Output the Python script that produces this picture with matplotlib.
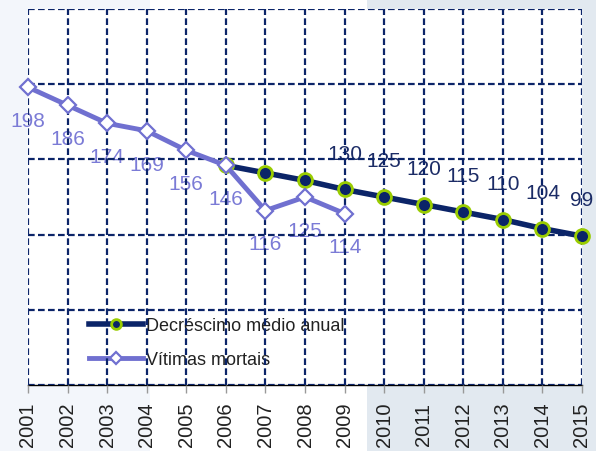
import matplotlib
matplotlib.use("Agg")
import matplotlib.pyplot as plt
from matplotlib.patches import Rectangle

years = [2001, 2002, 2003, 2004, 2005, 2006, 2007, 2008, 2009,
         2010, 2011, 2012, 2013, 2014, 2015]
vit_years = [2001, 2002, 2003, 2004, 2005, 2006, 2007, 2008, 2009]
vitimas = [198, 186, 174, 169, 156, 146, 116, 125, 114]
dec_years = [2006, 2007, 2008, 2009, 2010, 2011, 2012, 2013, 2014, 2015]
decrescimo = [146, 141, 136, 130, 125, 120, 115, 110, 104, 99]
dec_label_years = [2009, 2010, 2011, 2012, 2013, 2014, 2015]
y_ticks = [0, 50, 100, 150, 200, 250]

NAVY = "#0b2468"
VIOLET = "#7070d0"
LIME = "#99cc00"
FONT = ["Liberation Sans Narrow", "Liberation Sans", "DejaVu Sans"]

plt.rcParams['font.family'] = FONT

W, H = 596, 452
fig = plt.figure(figsize=(W / 100, H / 100), dpi=100)
fig.patch.set_facecolor("white")
fig.patches.append(Rectangle((0, 0), 150 / W, 1, transform=fig.transFigure,
                             facecolor="#f3f6fb", edgecolor="none", zorder=-10))
fig.patches.append(Rectangle((367 / W, 0), 1 - 367 / W, 1, transform=fig.transFigure,
                             facecolor="#e2e9f0", edgecolor="none", zorder=-10))

ax = fig.add_axes([28 / W, (H - 386) / H, (582 - 28) / W, (386 - 10) / H])
ax.set_facecolor("white")
ax.set_xlim(years[0], years[-1])
ax.set_ylim(y_ticks[0], y_ticks[-1])
ax.set_xticks(years)
ax.set_xticklabels([str(y) for y in years], rotation=90, fontsize=14.5, color="#222222")
ax.set_yticks(y_ticks)
ax.tick_params(axis="y", left=False, labelleft=False)
ax.tick_params(axis="x", length=6, width=1, color="#999999", pad=6)
for s in ["top", "right", "left"]:
    ax.spines[s].set_visible(False)
ax.spines["bottom"].set_color("black")
ax.spines["bottom"].set_linewidth(1)
ax.set_axisbelow(False)
ax.grid(True, color=NAVY, linestyle=(0, (3, 1.5)), linewidth=1.6)

ax.plot(dec_years, decrescimo, color=NAVY, lw=4, marker="o", ms=10,
        mfc=NAVY, mec=LIME, mew=2, zorder=4, label="Decréscimo médio anual",
        clip_on=False)
ax.plot(vit_years, vitimas, color=VIOLET, lw=3.5, marker="D", ms=8.5,
        mfc="white", mec=VIOLET, mew=1.6, zorder=5, label="Vítimas mortais",
        clip_on=False)

for x, v in zip(vit_years, vitimas):
    ax.annotate(str(v), (x, v), xytext=(0, -24), textcoords="offset points",
                ha="center", va="center", fontsize=15, color="#7b7bd6", zorder=2)
for x, v in zip(dec_years, decrescimo):
    if x in dec_label_years:
        ax.annotate(str(v), (x, v), xytext=(0, 26), textcoords="offset points",
                    ha="center", va="center", fontsize=15, color="#1c2c66",
                    zorder=2, annotation_clip=False)

leg = ax.legend(loc="upper left", bbox_to_anchor=(0.097, 0.20), frameon=False,
                fontsize=13, handlelength=3.0, handletextpad=0.15,
                labelspacing=0.95, markerscale=0.7, borderaxespad=0)
leg.set_zorder(2)
for t in leg.get_texts():
    t.set_color("#222222")

fig.savefig("out.png", dpi=100, facecolor=fig.get_facecolor())
